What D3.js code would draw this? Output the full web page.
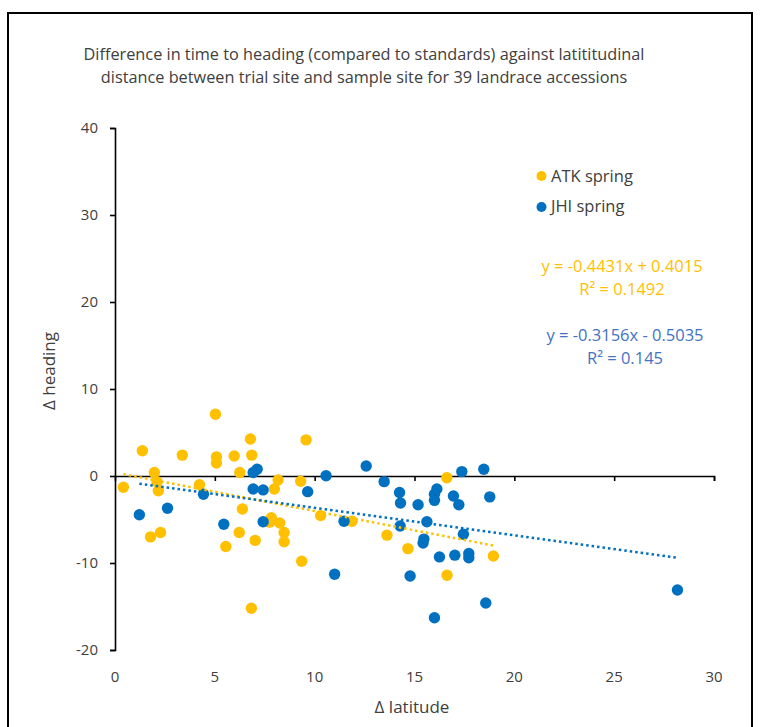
<!DOCTYPE html>
<html lang="en">
<head>
  <meta charset="utf-8">
  <title>Heading vs latitude</title>
  <script src="https://d3js.org/d3.v7.min.js"></script>
  <style>
    body { margin: 0; background: #fff; }
    text { font-family: "Open Sans", "Liberation Sans", sans-serif; fill: #404040; }
  </style>
</head>
<body>
<svg width="761" height="727"></svg>
<script>

// ATK spring: [delta latitude, delta heading]
var atk = [
  [0.42, -1.3], [1.37, 2.9], [1.97, 0.4], [2.1, -0.65], [2.17, -1.7], [1.78, -7.0],
  [2.28, -6.5], [3.37, 2.4], [4.23, -1.0], [5.03, 7.1], [5.08, 2.2], [5.08, 1.5],
  [5.97, 2.3], [6.25, 0.4], [6.38, -3.8], [6.22, -6.5], [5.55, -8.1], [6.78, 4.25],
  [6.85, 2.4], [7.02, -7.4], [6.83, -15.2], [8.17, -0.46], [7.98, -1.5], [7.83, -4.8],
  [7.75, -5.3], [8.25, -5.4], [8.47, -6.5], [8.47, -7.55], [9.3, -0.6], [9.35, -9.8],
  [9.57, 4.15], [10.3, -4.55], [11.87, -5.2], [13.62, -6.8], [14.67, -8.35],
  [16.62, -0.2], [16.63, -11.4], [18.95, -9.2]
];

// JHI spring
var jhi = [
  [1.22, -4.45], [2.63, -3.7], [4.43, -2.1], [5.45, -5.55], [6.92, 0.4], [7.12, 0.77],
  [6.92, -1.5], [7.42, -1.6], [7.42, -5.25], [9.65, -1.8], [10.57, 0.03], [12.58, 1.15],
  [11.47, -5.2], [11.0, -11.3], [13.48, -0.65], [14.25, -1.9], [14.3, -3.1], [14.28, -5.75],
  [15.18, -3.3], [15.62, -5.25], [15.47, -7.25], [15.43, -7.7], [14.78, -11.5], [16.0, -16.3],
  [16.12, -1.5], [16.0, -2.1], [16.0, -2.8], [16.25, -9.3], [16.95, -2.3], [17.22, -3.3],
  [17.37, 0.5], [18.47, 0.77], [18.77, -2.4], [17.45, -6.7], [17.02, -9.1], [17.72, -8.9],
  [17.72, -9.4], [18.57, -14.6], [28.17, -13.1]
];

// trendlines [slope, intercept]
var atkFit = [-0.4431, 0.4015];
var jhiFit = [-0.3156, -0.5035];

var xTicks = [0, 5, 10, 15, 20, 25, 30];
var yTicks = [-20, -10, 0, 10, 20, 30, 40];

var orange = "#FFC000", blue = "#0070C0";

var svg = d3.select("svg");

// outer frame
svg.append("rect").attr("x", 8).attr("y", 13).attr("width", 744).attr("height", 740)
    .attr("fill", "none").attr("stroke", "#000").attr("stroke-width", 2);

var x = d3.scaleLinear().domain([0, 30]).range([115, 714]);
var y = d3.scaleLinear().domain([-20, 40]).range([650, 128]);

// title
svg.append("text").attr("x", 364).attr("y", 60).attr("text-anchor", "middle")
    .style("font-size", "16.3px")
    .text("Difference in time to heading (compared to standards) against latititudinal");
svg.append("text").attr("x", 364).attr("y", 83).attr("text-anchor", "middle")
    .style("font-size", "16.3px")
    .text("distance between trial site and sample site for 39 landrace accessions");

// y axis
var yAxis = svg.append("g").attr("transform", "translate(" + x(0) + ",0)")
    .call(d3.axisLeft(y).tickValues(yTicks).tickSize(5).tickPadding(12)
      .tickFormat(function(d) { return String(d); }));
// x axis along y = 0, labels at bottom
var xAxis = svg.append("g").attr("transform", "translate(0," + y(0) + ")")
    .call(d3.axisBottom(x).tickValues(xTicks).tickSize(5).tickFormat(""));
[yAxis, xAxis].forEach(function(a) {
  a.select(".domain").attr("stroke", "#000").attr("stroke-width", 1.6);
  a.selectAll(".tick line").attr("stroke", "#000").attr("stroke-width", 1.6);
});
yAxis.selectAll("text").style("font-size", "15px").style("font-family", "Open Sans, sans-serif").attr("fill", "#404040");
xAxis.selectAll(".tick").filter(function(d) { return d === 0; }).select("line").remove();

svg.append("g").selectAll("text").data(xTicks).enter().append("text")
    .attr("x", function(d) { return x(d); }).attr("y", 682)
    .attr("text-anchor", "middle").style("font-size", "15px")
    .text(function(d) { return d; });

// axis titles
svg.append("text").attr("transform", "translate(55,371) rotate(-90)")
    .attr("text-anchor", "middle").style("font-size", "17px").text("Δ heading");
svg.append("text").attr("x", 412).attr("y", 713)
    .attr("text-anchor", "middle").style("font-size", "17px").text("Δ latitude");

// points
function dots(data, color) {
  svg.append("g").selectAll("circle").data(data).enter().append("circle")
      .attr("cx", function(d) { return x(d[0]); })
      .attr("cy", function(d) { return y(d[1]); })
      .attr("r", 5.7)
      .attr("fill", color);
}
dots(atk, orange);
dots(jhi, blue);

// trendlines
function trend(data, fit, color) {
  var ext = d3.extent(data, function(d) { return d[0]; });
  svg.append("line")
      .attr("x1", x(ext[0])).attr("y1", y(fit[0] * ext[0] + fit[1]))
      .attr("x2", x(ext[1])).attr("y2", y(fit[0] * ext[1] + fit[1]))
      .attr("stroke", color).attr("stroke-width", 2.5)
      .attr("stroke-dasharray", "2.5,3");
}
trend(atk, atkFit, orange);
trend(jhi, jhiFit, blue);

// legend
var legend = [["ATK spring", orange], ["JHI spring", blue]];
legend.forEach(function(l, i) {
  svg.append("circle").attr("cx", 541.5).attr("cy", 176 + i * 31).attr("r", 5).attr("fill", l[1]);
  svg.append("text").attr("x", 551).attr("y", 182 + i * 30).style("font-size", "16.5px").text(l[0]);
});

// equations
function eq(fit, r2, color, cx, top) {
  var sign = fit[1] < 0 ? " - " : " + ";
  svg.append("text").attr("x", cx).attr("y", top).attr("text-anchor", "middle")
      .style("font-size", "16.5px").style("fill", color)
      .text("y = " + fit[0] + "x" + sign + Math.abs(fit[1]));
  svg.append("text").attr("x", cx).attr("y", top + 23).attr("text-anchor", "middle")
      .style("font-size", "16.5px").style("fill", color)
      .text("R² = " + r2);
}
eq(atkFit, "0.1492", orange, 622, 272);
eq(jhiFit, "0.145", "#4472C4", 625, 341);

</script>
</body>
</html>
